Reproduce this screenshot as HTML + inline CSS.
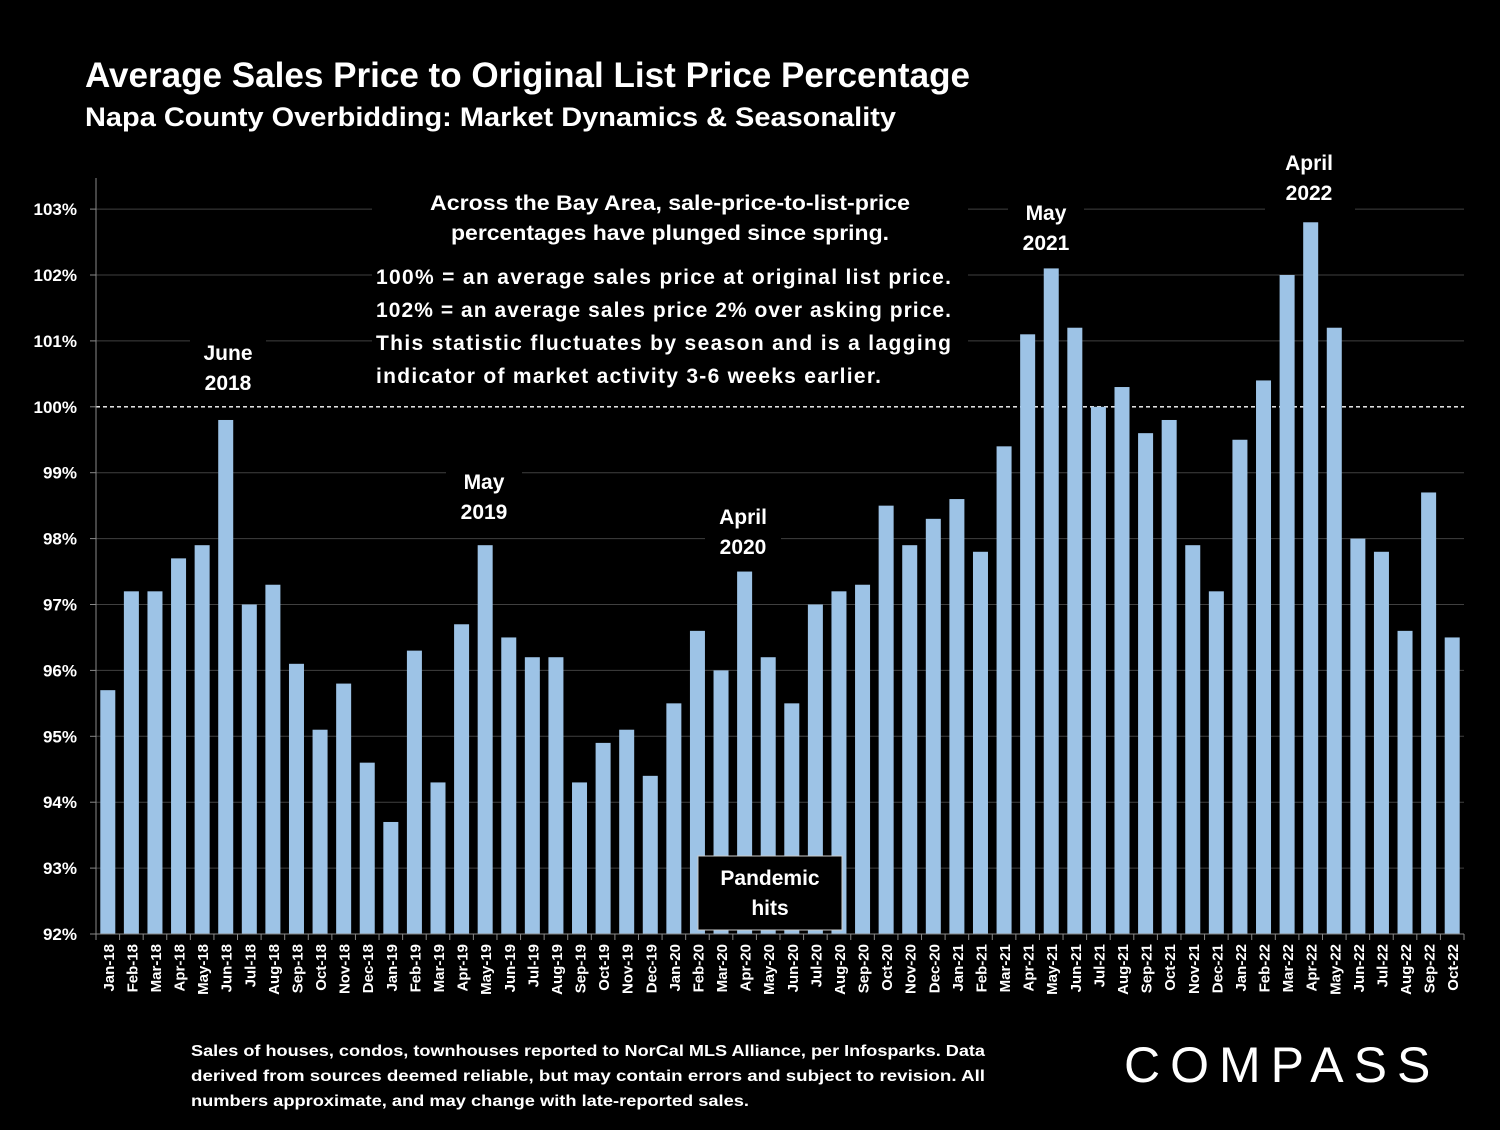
<!DOCTYPE html>
<html><head><meta charset="utf-8"><style>
body{margin:0;background:#000;width:1500px;height:1125px;overflow:hidden;font-family:"Liberation Sans",sans-serif;color:#fff}
</style></head><body>
<svg width="1500" height="1125" xmlns="http://www.w3.org/2000/svg" style="font-family:'Liberation Sans',sans-serif">
<rect width="1500" height="1125" fill="#000"/>
<text x="85" y="87" font-size="35" font-weight="bold" fill="#fff" textLength="885" lengthAdjust="spacingAndGlyphs">Average Sales Price to Original List Price Percentage</text>
<text x="85" y="126" font-size="27" font-weight="bold" fill="#fff" textLength="811" lengthAdjust="spacingAndGlyphs">Napa County Overbidding: Market Dynamics &amp; Seasonality</text>
<g id="grid"></g><g id="bars"></g><g id="axes"></g><g id="ann"></g>
<text x="1124" y="1082" font-size="50" fill="#fff" letter-spacing="10">COMPASS</text>
<text font-size="16" font-weight="bold" fill="#fff"><tspan x="191" y="1056" textLength="794" lengthAdjust="spacingAndGlyphs">Sales of houses, condos, townhouses reported to NorCal MLS Alliance, per Infosparks. Data</tspan><tspan x="191" y="1081" textLength="794" lengthAdjust="spacingAndGlyphs">derived from sources deemed reliable, but may contain errors and subject to revision. All</tspan><tspan x="191" y="1106" textLength="558" lengthAdjust="spacingAndGlyphs">numbers approximate, and may change with late-reported sales.</tspan></text>
</svg>
<script>
const categories=["Jan-18","Feb-18","Mar-18","Apr-18","May-18","Jun-18","Jul-18","Aug-18","Sep-18","Oct-18","Nov-18","Dec-18","Jan-19","Feb-19","Mar-19","Apr-19","May-19","Jun-19","Jul-19","Aug-19","Sep-19","Oct-19","Nov-19","Dec-19","Jan-20","Feb-20","Mar-20","Apr-20","May-20","Jun-20","Jul-20","Aug-20","Sep-20","Oct-20","Nov-20","Dec-20","Jan-21","Feb-21","Mar-21","Apr-21","May-21","Jun-21","Jul-21","Aug-21","Sep-21","Oct-21","Nov-21","Dec-21","Jan-22","Feb-22","Mar-22","Apr-22","May-22","Jun-22","Jul-22","Aug-22","Sep-22","Oct-22"];
const values=[95.7,97.2,97.2,97.7,97.9,99.8,97.0,97.3,96.1,95.1,95.8,94.6,93.7,96.3,94.3,96.7,97.9,96.5,96.2,96.2,94.3,94.9,95.1,94.4,95.5,96.6,96.0,97.5,96.2,95.5,97.0,97.2,97.3,98.5,97.9,98.3,98.6,97.8,99.4,101.1,102.1,101.2,100.0,100.3,99.6,99.8,97.9,97.2,99.5,100.4,102.0,102.8,101.2,98.0,97.8,96.6,98.7,96.5];
const yTicks=[92,93,94,95,96,97,98,99,100,101,102,103];
const NS="http://www.w3.org/2000/svg";
const X0=96,X1=1464,Y0=934,YMIN=92,PX=65.9;
const slot=(X1-X0)/categories.length;
const xc=i=>X0+slot*(i+0.5);
const y=v=>Y0-(v-YMIN)*PX;
function mk(tag,attrs,parent){const e=document.createElementNS(NS,tag);for(const k in attrs)e.setAttribute(k,attrs[k]);document.getElementById(parent).appendChild(e);return e;}
yTicks.forEach(t=>{
 if(t!==92&&t!==100){const g=mk('line',{x1:X0,x2:X1,y1:y(t),y2:y(t),stroke:'#404040','stroke-width':1},'grid');
 
 }
 const l=mk('text',{x:77,y:y(t)+6,'font-size':17,'font-weight':'bold',fill:'#fff','text-anchor':'end'},'axes');
 l.textContent=t+'%';
 
 
 mk('line',{x1:X0-6,x2:X0,y1:y(t),y2:y(t),stroke:'#888'},'axes');
});
const dl=mk('line',{x1:X0,x2:X1,y1:y(100),y2:y(100),stroke:'#fff','stroke-width':1.3,'stroke-dasharray':'4,3'},'grid');


values.forEach((v,i)=>{
 const b=mk('rect',{x:xc(i)-7.5,y:y(v),width:15,height:Y0-y(v),fill:'#9dc3e6'},'bars');
 
 
 const t=mk('text',{transform:`translate(${xc(i)+6},944) rotate(-90)`,'font-size':15,'font-weight':'bold',fill:'#fff','text-anchor':'end'},'axes');
 t.textContent=categories[i];
 
 
 mk('line',{x1:X0+slot*i,x2:X0+slot*i,y1:Y0,y2:Y0+6,stroke:'#888'},'axes');
});
mk('line',{x1:X0,x2:X0,y1:178,y2:Y0,stroke:'#888'},'axes');
mk('line',{x1:X0,x2:X1,y1:Y0,y2:Y0,stroke:'#888'},'axes');
mk('line',{x1:X1,x2:X1,y1:Y0,y2:Y0+6,stroke:'#888'},'axes');
function ann(lines,cx,y0,name,box,lens){
 if(box)mk('rect',box,'ann');
 const t=mk('text',{'font-size':21,'font-weight':'bold',fill:'#fff','text-anchor':'middle'},'ann');
 
 
 lines.forEach((s,k)=>{const sp=document.createElementNS(NS,'tspan');sp.setAttribute('x',cx);sp.setAttribute('y',y0+k*30);if(lens){sp.setAttribute('textLength',lens[k]);sp.setAttribute('lengthAdjust','spacingAndGlyphs');}sp.textContent=s;t.appendChild(sp);});
}
mk('rect',{x:372,y:182,width:596,height:210,fill:'#000'},'ann');
ann(["Across the Bay Area, sale-price-to-list-price","percentages have plunged since spring."],670,210,'annotation-headline',null,[480,438]);
const info=mk('text',{'font-size':21,'font-weight':'bold',fill:'#fff'},'ann');


const lens=[575,575,575,505];
["100% = an average sales price at original list price.","102% = an average sales price 2% over asking price.","This statistic fluctuates by season and is a lagging","indicator of market activity 3-6 weeks earlier."].forEach((s,k)=>{const sp=document.createElementNS(NS,'tspan');sp.setAttribute('x',376);sp.setAttribute('y',284+k*33);sp.setAttribute('textLength',lens[k]);sp.setAttribute('lengthAdjust','spacing');sp.textContent=s;info.appendChild(sp);});
ann(["June","2018"],228,360,'label-june-2018',{x:190,y:335,width:76,height:65,fill:'#000'});
ann(["May","2019"],484,489,'label-may-2019',{x:446,y:464,width:76,height:65,fill:'#000'});
ann(["April","2020"],743,524,'label-april-2020',{x:705,y:499,width:76,height:65,fill:'#000'});
ann(["May","2021"],1046,220,'label-may-2021',{x:1008,y:195,width:76,height:60,fill:'#000'});
ann(["April","2022"],1309,170,'label-april-2022',{x:1265,y:145,width:90,height:65,fill:'#000'});
ann(["Pandemic","hits"],770,885,'label-pandemic-hits',{x:698,y:856,width:144,height:74,fill:'#000',stroke:'#ccc','stroke-width':1});
</script>
</body></html>
